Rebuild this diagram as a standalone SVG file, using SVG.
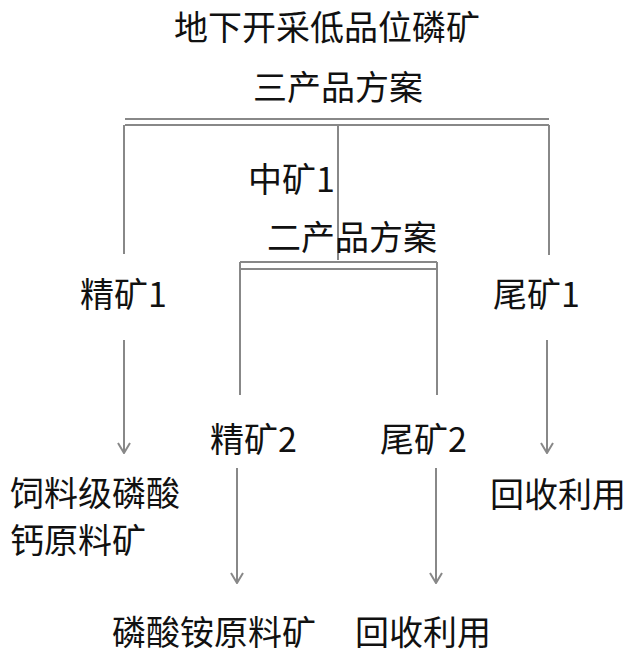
<svg xmlns="http://www.w3.org/2000/svg" width="640" height="660" viewBox="0 0 640 660">
<defs>
<style>
text{font-family:"Noto Sans CJK SC","Liberation Sans",sans-serif;font-size:34px;fill:#111}
.l{stroke:#888;stroke-width:2;fill:none}
</style>
<marker id="a" viewBox="0 0 14 14" refX="13" refY="7" markerWidth="14" markerHeight="14" markerUnits="userSpaceOnUse" orient="auto">
<path d="M3,1 L13,7 L3,13" class="l"/>
</marker>
</defs>
<rect width="640" height="660" fill="#fff"/>
<g id="connectors">
<path class="l" d="M125,119H549M125,125H549M124,125V254M549,125V255M338,125V260"/>
<path class="l" d="M240,262H437M240,269H437M240,262V395M437,262V395"/>
<path class="l" d="M124,340V453" marker-end="url(#a)"/>
<path class="l" d="M547,340V453" marker-end="url(#a)"/>
<path class="l" d="M237,468V583" marker-end="url(#a)"/>
<path class="l" d="M436,468V583" marker-end="url(#a)"/>
</g>
<g id="top"><text x="327" y="40" text-anchor="middle">地下开采低品位磷矿</text><text x="338" y="100" text-anchor="middle">三产品方案</text></g>
<g id="mid1"><text x="248" y="192">中矿1</text></g>
<g id="two"><text x="352" y="250" text-anchor="middle">二产品方案</text></g>
<g id="jk1"><text x="80" y="307">精矿1</text></g>
<g id="wk1"><text x="493" y="307">尾矿1</text></g>
<g id="jk2"><text x="210" y="452">精矿2</text></g>
<g id="wk2"><text x="380" y="452">尾矿2</text></g>
<g id="feed"><text x="10" y="506">饲料级磷酸</text><text x="10" y="553">钙原料矿</text></g>
<g id="rec1"><text x="490" y="507">回收利用</text></g>
<g id="amm"><text x="112" y="645">磷酸铵原料矿</text></g>
<g id="rec2"><text x="355" y="645">回收利用</text></g>
</svg>
